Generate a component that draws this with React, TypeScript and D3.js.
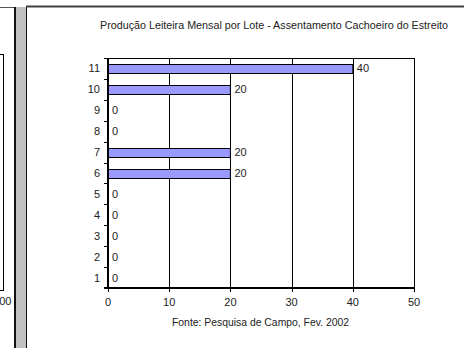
import React from "react";
import * as d3 from "d3";

const lots: string[] = ["1", "2", "3", "4", "5", "6", "7", "8", "9", "10", "11"];
const production: number[] = [0, 0, 0, 0, 0, 20, 20, 0, 0, 20, 40];
const xTicks: number[] = [0, 10, 20, 30, 40, 50];
const titleText = "Produção Leiteira Mensal por Lote - Assentamento Cachoeiro do Estreito";
const sourceText = "Fonte: Pesquisa de Campo, Fev. 2002";
const leftPanelLabel = "00";

const W = 464;
const H = 348;
const plot = { left: 108, right: 414, top: 58, bottom: 288 };
const FONT = "'Liberation Sans', Arial, sans-serif";
const TEXT = "#222";

export default function App() {
  const x = d3.scaleLinear().domain([0, 50]).range([plot.left, plot.right]);
  const y = d3
    .scaleBand<string>()
    .domain([...lots].reverse())
    .range([plot.top, plot.bottom])
    .paddingInner(0.57)
    .paddingOuter(0.285);
  const step = y.step();
  const bandTop = (c: string) => (y(c) as number) - step * y.paddingInner() / 2;
  const data = lots.map((l, i) => ({ lot: l, v: production[i] }));
  const boundaries = d3.range(lots.length + 1).map((i) => plot.top + i * ((plot.bottom - plot.top) / lots.length));

  return (
    <svg
      width={W}
      height={H}
      style={{ position: "absolute", left: 0, top: 0, background: "#fff" }}
      fontFamily={FONT}
    >
      <rect x={0} y={0} width={W} height={H} fill="#fff" />
      {/* left neighbouring panel fragment */}
      <line x1={0} x2={14} y1={7.5} y2={7.5} stroke="#555" strokeWidth={1} />
      <line x1={0} x2={3.5} y1={54.5} y2={54.5} stroke="#000" strokeWidth={1} />
      <line x1={3.5} x2={3.5} y1={54} y2={291} stroke="#000" strokeWidth={1} />
      <line x1={0} x2={3.5} y1={290.5} y2={290.5} stroke="#000" strokeWidth={1} />
      <text x={11.5} y={305} textAnchor="end" fontSize={11} fill={TEXT}>
        {leftPanelLabel}
      </text>
      {/* grey separator strip */}
      <rect x={14} y={7} width={12} height={H - 7} fill="#c0c0c0" />
      <line x1={15} x2={15} y1={7} y2={H} stroke="#111" strokeWidth={2} />
      <line x1={26.5} x2={26.5} y1={6} y2={H} stroke="#111" strokeWidth={1} />
      {/* right panel top border */}
      <line x1={26} x2={W} y1={6.5} y2={6.5} stroke="#404040" strokeWidth={2} />

      {/* title */}
      <text
        x={100}
        y={28.5}
        fontSize={10}
        fill={TEXT}
        textLength={348}
        lengthAdjust="spacingAndGlyphs"
      >
        {titleText}
      </text>

      {/* gridlines */}
      {xTicks
        .filter((t) => t > 0 && t < 50)
        .map((t) => (
          <line
            key={"g" + t}
            x1={Math.round(x(t)) + 0.5}
            x2={Math.round(x(t)) + 0.5}
            y1={plot.top}
            y2={plot.bottom}
            stroke="#000"
            strokeWidth={1}
          />
        ))}
      {/* plot frame top/right */}
      <line x1={plot.left} x2={plot.right + 0.5} y1={plot.top + 0.5} y2={plot.top + 0.5} stroke="#000" />
      <line x1={plot.right + 0.5} x2={plot.right + 0.5} y1={plot.top} y2={plot.bottom} stroke="#000" />

      {/* bars */}
      {data.map((d) =>
        d.v > 0 ? (
          <rect
            key={"b" + d.lot}
            x={x(0)}
            y={Math.round(y(d.lot) as number) + 0.5}
            width={x(d.v) - x(0)}
            height={Math.round(y.bandwidth())}
            fill="#9999ff"
            stroke="#000"
            strokeWidth={1}
          />
        ) : null
      )}
      {/* value labels */}
      {data.map((d) => (
        <text
          key={"v" + d.lot}
          x={x(d.v) + 4}
          y={(y(d.lot) as number) + y.bandwidth() / 2}
          dominantBaseline="central"
          fontSize={11}
          fill={TEXT}
        >
          {d.v}
        </text>
      ))}

      {/* y axis */}
      <line x1={plot.left} x2={plot.left} y1={plot.top} y2={plot.bottom + 1} stroke="#000" strokeWidth={2} />
      {boundaries.map((b, i) => (
        <line key={"yt" + i} x1={plot.left - 4} x2={plot.left} y1={Math.round(b) + 0.5} y2={Math.round(b) + 0.5} stroke="#000" />
      ))}
      {lots.map((l) => (
        <text
          key={"yl" + l}
          x={100}
          y={bandTop(l) + step / 2}
          textAnchor="end"
          dominantBaseline="central"
          fontSize={11}
          fill={TEXT}
        >
          {l}
        </text>
      ))}

      {/* x axis */}
      <line x1={plot.left - 4} x2={plot.right + 0.5} y1={plot.bottom} y2={plot.bottom} stroke="#000" strokeWidth={2} />
      {xTicks.map((t) => (
        <g key={"xt" + t}>
          <line x1={Math.round(x(t)) + 0.5} x2={Math.round(x(t)) + 0.5} y1={plot.bottom} y2={plot.bottom + 4} stroke="#000" />
          <text x={x(t)} y={306} textAnchor="middle" fontSize={11} fill={TEXT}>
            {t}
          </text>
        </g>
      ))}

      {/* source */}
      <text
        x={172}
        y={326}
        fontSize={10}
        fill={TEXT}
        textLength={177}
        lengthAdjust="spacingAndGlyphs"
      >
        {sourceText}
      </text>
    </svg>
  );
}
